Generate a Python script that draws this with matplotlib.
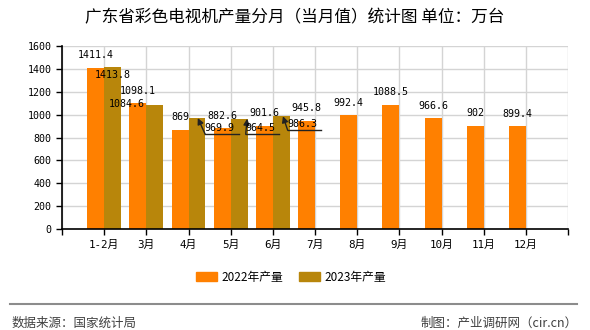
import matplotlib
matplotlib.use("Agg")
import matplotlib.pyplot as plt
from matplotlib.patches import Patch

months = ['1-2月', '3月', '4月', '5月', '6月', '7月', '8月', '9月', '10月', '11月', '12月']
prod_2022 = [1411.4, 1098.1, 869, 882.6, 901.6, 945.8, 992.4, 1088.5, 966.6, 902, 899.4]
prod_2023 = [1413.8, 1084.6, 969.9, 964.5, 986.3]
labels_2022 = ['1411.4', '1098.1', '869', '882.6', '901.6', '945.8', '992.4', '1088.5', '966.6', '902', '899.4']
labels_2023 = ['1413.8', '1084.6', '969.9', '964.5', '986.3']

c22 = '#ff8000'
c23 = '#b8860b'
mono = ['DejaVu Sans Mono', 'Noto Sans CJK SC']
cjk = ['Noto Sans CJK SC', 'DejaVu Sans']

# where the 2023 labels got pushed to (data units, relative to bar top centre)
# (label dx, label dy, arrow tip dx) - None means no leader line
shift_2023 = [(0.0, -70, None), (-0.655, 8, None),
              (0.537, -87, 0.02), (0.497, -81, 0.19), (0.492, -68, 0.04)]

fig = plt.figure(figsize=(5.9, 3.3), dpi=100)
ax = fig.add_axes([62 / 590, 1 - 229 / 330, 506 / 590, 183 / 330])

w = 0.4
x22 = [i - w / 2 for i in range(len(prod_2022))]
x23 = [i + w / 2 for i in range(len(prod_2023))]
ax.bar(x22, prod_2022, width=w, color=c22, zorder=2)
ax.bar(x23, prod_2023, width=w, color=c23, zorder=2)

for x, v, s in zip(x22, prod_2022, labels_2022):
    ax.annotate(s, (x, v), xytext=(0, 12.5), textcoords='offset pixels',
                ha='center', va='center', fontsize=7.2, family=mono, zorder=5)

for x, v, s, (dx, dy, tip) in zip(x23, prod_2023, labels_2023, shift_2023):
    lx, ly = x + dx, v + dy
    ax.text(lx, ly, s, ha='center', va='center', fontsize=7.2, family=mono, zorder=5)
    if tip is not None:
        cx, cy = lx - 0.34, ly - 55
        ax.plot([cx, lx + 0.45], [cy, cy], color='#222222', lw=1, zorder=4)
        ax.annotate('', xy=(x + tip, v), xytext=(cx, cy),
                    arrowprops=dict(arrowstyle='-|>', color='#222222', lw=1,
                                    mutation_scale=9, shrinkA=0, shrinkB=0),
                    zorder=4)

ax.set_xlim(-1, 11)
ax.set_ylim(0, 1600)
ax.set_yticks(range(0, 1601, 200))
ax.set_xticks(range(-1, 12))
ax.set_xticklabels([''] + months + [''])
ax.grid(True, color='#d4d4d4', lw=1, zorder=0)
ax.set_axisbelow(True)
for sp in ['top', 'right']:
    ax.spines[sp].set_visible(False)
for sp in ['left', 'bottom']:
    ax.spines[sp].set_color('black')
    ax.spines[sp].set_linewidth(1.2)
ax.tick_params(axis='both', length=4, width=1, color='black', labelsize=7.2)
ax.tick_params(axis='x', labelsize=7.8)
for t in ax.get_xticklabels() + ax.get_yticklabels():
    t.set_family(mono)

fig.text(0.5, 1 - 17.5 / 330, '广东省彩色电视机产量分月（当月值）统计图 单位：万台',
         ha='center', va='center', fontsize=12, family=cjk)

handles = [Patch(color=c22, label='2022年产量'), Patch(color=c23, label='2023年产量')]
fig.legend(handles=handles, loc='center', bbox_to_anchor=(0.493, 1 - 277 / 330), ncol=2,
           frameon=False, prop={'family': cjk, 'size': 8.5}, handlelength=1.85,
           handleheight=0.75, handletextpad=0.35, columnspacing=1.3)

fig.add_artist(plt.Line2D([10 / 590, 577 / 590], [1 - 304 / 330] * 2, color='#8c8c8c', lw=1.5))
fig.text(12 / 590, 1 - 323 / 330, '数据来源：国家统计局', ha='left', va='center',
         fontsize=9, family=cjk, color='#404040')
fig.text(578 / 590, 1 - 323 / 330, '制图：产业调研网（cir.cn）', ha='right', va='center',
         fontsize=9, family=cjk, color='#404040')

fig.savefig('out.png', dpi=100)
